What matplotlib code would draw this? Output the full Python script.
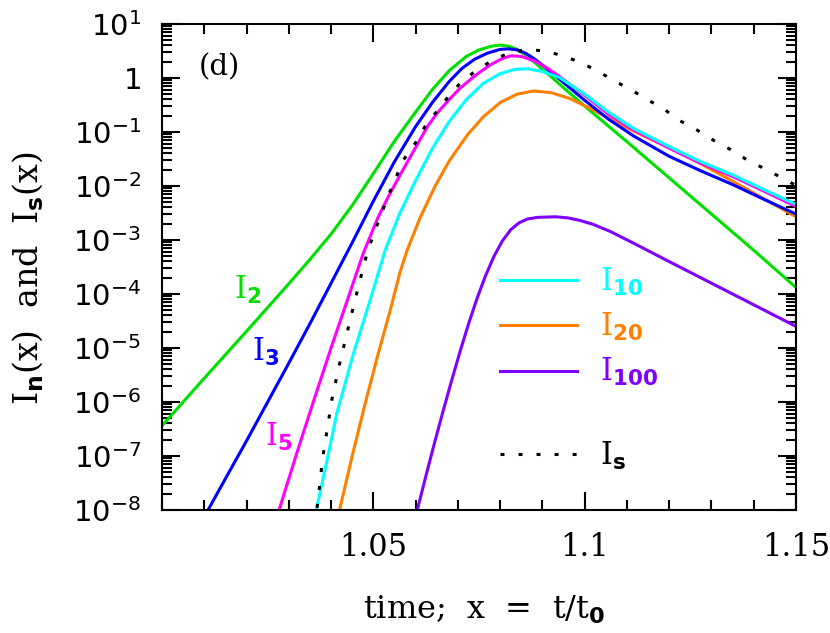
import matplotlib
matplotlib.use("Agg")
import matplotlib.pyplot as plt
from matplotlib.ticker import LogLocator, FixedLocator, FuncFormatter, NullFormatter
from matplotlib.lines import Line2D
import numpy as np

# ---------------- data (x, log10 y) ----------------
x_I2 = [1.000, 1.010, 1.020, 1.030, 1.035, 1.040, 1.045, 1.050, 1.055, 1.060, 1.064, 1.068,
        1.072, 1.075, 1.078, 1.080, 1.082, 1.084, 1.086, 1.088, 1.090, 1.092, 1.095, 1.100,
        1.110, 1.120, 1.130, 1.140, 1.150]
lg_I2 = [-6.44, -5.56, -4.69, -3.81, -3.36, -2.89, -2.36, -1.77, -1.17, -0.63, -0.21, 0.14,
         0.40, 0.52, 0.59, 0.61, 0.59, 0.53, 0.43, 0.30, 0.16, 0.03, -0.18, -0.52,
         -1.18, -1.85, -2.52, -3.19, -3.88]

x_I3 = [1.0109, 1.015, 1.020, 1.025, 1.030, 1.035, 1.040, 1.045, 1.050, 1.055, 1.060, 1.064,
        1.068, 1.071, 1.074, 1.077, 1.080, 1.082, 1.084, 1.086, 1.088, 1.090, 1.0934, 1.0998,
        1.1056, 1.1115, 1.120, 1.1275, 1.1352, 1.1425, 1.150]
lg_I3 = [-8.0, -7.42, -6.72, -6.0, -5.28, -4.55, -3.80, -3.05, -2.28, -1.55, -0.90, -0.45,
         -0.06, 0.18, 0.35, 0.46, 0.53, 0.54, 0.52, 0.46, 0.36, 0.24, 0.02, -0.40,
         -0.76, -1.07, -1.45, -1.72, -1.98, -2.25, -2.52]

x_I5 = [1.0277, 1.032, 1.036, 1.040, 1.044, 1.0476, 1.051, 1.0534, 1.0563, 1.0599, 1.0628,
        1.065, 1.0677, 1.0705, 1.074, 1.0776, 1.0805, 1.0825, 1.085, 1.088, 1.091, 1.094,
        1.100, 1.1056, 1.1115, 1.120, 1.1275, 1.1352, 1.1425, 1.150]
lg_I5 = [-8.0, -6.92, -5.95, -5.0, -4.08, -3.25, -2.60, -2.22, -1.80, -1.30, -0.90,
         -0.66, -0.42, -0.19, 0.04, 0.24, 0.36, 0.41, 0.40, 0.32, 0.19, 0.03,
         -0.32, -0.67, -0.96, -1.30, -1.58, -1.83, -2.10, -2.38]

x_I10 = [1.0365, 1.039, 1.0414, 1.0453, 1.0493, 1.0528, 1.0563, 1.060, 1.064, 1.068, 1.072,
         1.076, 1.080, 1.0835, 1.0865, 1.090, 1.094, 1.100, 1.1056, 1.1115, 1.120, 1.1275,
         1.1352, 1.1425, 1.150]
lg_I10 = [-8.0, -7.1, -6.2, -5.1, -4.1, -3.19, -2.50, -1.90, -1.30, -0.80, -0.40,
          -0.10, 0.08, 0.16, 0.17, 0.12, 0.01, -0.30, -0.63, -0.93, -1.27, -1.55,
          -1.80, -2.07, -2.34]

x_I20 = [1.042, 1.045, 1.048, 1.051, 1.054, 1.0563, 1.058, 1.061, 1.0645, 1.068, 1.0723,
         1.076, 1.0801, 1.084, 1.0879, 1.092, 1.0965, 1.1007, 1.1056, 1.1115, 1.1197,
         1.1275, 1.1352, 1.1425, 1.150]
lg_I20 = [-8.0, -7.0, -6.05, -5.15, -4.3, -3.6, -3.19, -2.6, -2.02, -1.53, -1.05,
          -0.72, -0.45, -0.30, -0.24, -0.27, -0.38, -0.54, -0.74, -0.98, -1.28,
          -1.59, -1.92, -2.24, -2.57]

x_I100 = [1.0604, 1.0625, 1.0645, 1.0665, 1.0685, 1.0705, 1.0725, 1.0745, 1.0765, 1.0785,
          1.0805, 1.0825, 1.0845, 1.0865, 1.089, 1.0931, 1.096, 1.099, 1.102, 1.106, 1.1116,
          1.120, 1.130, 1.140, 1.150]
lg_I100 = [-8.0, -7.35, -6.75, -6.17, -5.61, -5.07, -4.56, -4.09, -3.67, -3.31,
           -3.02, -2.81, -2.68, -2.61, -2.58, -2.57, -2.59, -2.64, -2.71, -2.84, -3.06,
           -3.40, -3.80, -4.20, -4.60]

x_Is = [1.0367, 1.0380, 1.0392, 1.0402, 1.0420, 1.0443, 1.0465, 1.0487, 1.0510, 1.0536,
        1.0571, 1.0599, 1.0622, 1.0650, 1.0677, 1.0705, 1.0740, 1.0776, 1.0819, 1.0863,
        1.0906, 1.0949, 1.0993, 1.1032, 1.1072, 1.1112, 1.1151, 1.1190, 1.1225, 1.1265,
        1.1304, 1.1344, 1.1383, 1.1423, 1.1462, 1.1500]
lg_Is = [-7.96, -7.05, -6.45, -5.95, -5.3, -4.55, -3.85, -3.19, -2.70, -2.17,
         -1.52, -1.21, -0.90, -0.62, -0.35, -0.10, 0.12, 0.30, 0.46, 0.53,
         0.50, 0.41, 0.28, 0.12, -0.06, -0.23, -0.41, -0.59, -0.79, -0.96,
         -1.15, -1.32, -1.51, -1.67, -1.83, -1.99]

inline_labels = [r"$\mathrm{I}_{\mathbf{2}}$", r"$\mathrm{I}_{\mathbf{3}}$", r"$\mathrm{I}_{\mathbf{5}}$"]
legend_labels = [r"$\mathrm{I}_{\mathbf{10}}$", r"$\mathrm{I}_{\mathbf{20}}$",
                 r"$\mathrm{I}_{\mathbf{100}}$", r"$\mathrm{I}_{\mathbf{s}}$"]
xtick_vals = [1.05, 1.1, 1.15]
xtick_text = ["1.05", "1.1", "1.15"]

# ---------------- style ----------------
plt.rcParams['mathtext.fontset'] = 'custom'
plt.rcParams['mathtext.rm'] = 'DejaVu Serif'
plt.rcParams['mathtext.it'] = 'DejaVu Serif:italic'
plt.rcParams['mathtext.bf'] = 'DejaVu Sans:bold'
plt.rcParams['mathtext.sf'] = 'DejaVu Sans'

c_green = '#00e000'
c_blue = '#0000ff'
c_mag = '#ff00ff'
c_cyan = '#00ffff'
c_orange = '#ff8000'
c_purple = '#8000ff'
lw = 2.2
dots = (0, (1.3, 4.6))

fig = plt.figure(figsize=(8.30, 6.33), dpi=100)
ax = fig.add_axes([162/830, 1 - 510/633, (796-162)/830, (510-24)/633])

def p(xs, lg):
    return np.array(xs), 10.0 ** np.array(lg)

ax.plot(*p(x_I2, lg_I2), color=c_green, lw=lw)
ax.plot(*p(x_I20, lg_I20), color=c_orange, lw=lw)
ax.plot(*p(x_I3, lg_I3), color=c_blue, lw=lw)
ax.plot(*p(x_I100, lg_I100), color=c_purple, lw=lw)
ax.plot(*p(x_I5, lg_I5), color=c_mag, lw=lw)
ax.plot(*p(x_I10, lg_I10), color=c_cyan, lw=lw)
ax.plot(*p(x_Is, lg_Is), color='black', lw=lw, linestyle=dots)

ax.set_yscale('log')
ax.set_xlim(1.0, 1.15)
ax.set_ylim(1e-8, 10)

# ticks
ax.set_xticks(xtick_vals, labels=xtick_text, fontfamily='DejaVu Serif', fontsize=22)
ax.xaxis.set_minor_locator(FixedLocator(np.round(np.arange(1.0, 1.1501, 0.01), 3)))
ax.yaxis.set_major_locator(LogLocator(base=10, numticks=20))
ax.yaxis.set_minor_locator(LogLocator(base=10, subs=np.arange(2, 10), numticks=20))
ax.yaxis.set_minor_formatter(NullFormatter())

def yfmt(v, pos):
    e = int(round(np.log10(v)))
    if e == 0:
        return r"$\mathregular{1}$"
    return r"$\mathregular{10^{%d}}$" % e
ax.yaxis.set_major_formatter(FuncFormatter(yfmt))

ax.tick_params(which='both', direction='in', top=True, right=True, width=1.5, color='black')
ax.tick_params(which='major', length=13)
ax.tick_params(which='minor', length=7)
ax.tick_params(axis='x', which='major', pad=16)
ax.tick_params(axis='y', which='major', pad=15, labelsize=21, labelfontfamily='DejaVu Sans')
for s in ax.spines.values():
    s.set_linewidth(1.5)

ax.set_xlabel(r"time;  x  =  t/t$_\mathbf{0}$", fontfamily='DejaVu Serif', fontsize=23)
ax.xaxis.set_label_coords(0.509, -0.172)
ax.set_ylabel(r"I$_\mathbf{n}$(x)  and  I$_\mathbf{s}$(x)", fontfamily='DejaVu Serif', fontsize=24)
ax.yaxis.set_label_coords(-0.185, 0.477)

ax.text(0.09, 0.911, "(d)", transform=ax.transAxes, fontfamily='DejaVu Serif', fontsize=21,
        ha='center', va='center')

# inline labels
ax.text(1.0203, 10 ** -3.93, inline_labels[0], color=c_green, fontsize=22, ha='center', va='center')
ax.text(1.0246, 10 ** -5.07, inline_labels[1], color=c_blue, fontsize=22, ha='center', va='center')
ax.text(1.0277, 10 ** -6.65, inline_labels[2], color=c_mag, fontsize=22, ha='center', va='center')

# legends
h1 = [Line2D([], [], color=c_cyan, lw=lw),
      Line2D([], [], color=c_orange, lw=lw),
      Line2D([], [], color=c_purple, lw=lw)]
leg1 = ax.legend(h1, legend_labels[:3], loc='center left', bbox_to_anchor=(0.533, 0.3765),
                 frameon=False, fontsize=22, handlelength=2.52, handletextpad=0.75,
                 labelspacing=0.43, borderaxespad=0, borderpad=0)
for t, c in zip(leg1.get_texts(), [c_cyan, c_orange, c_purple]):
    t.set_color(c)
ax.add_artist(leg1)
h2 = [Line2D([], [], color='black', lw=lw, linestyle=dots)]
leg2 = ax.legend(h2, legend_labels[3:], loc='center left', bbox_to_anchor=(0.533, 0.111),
                 frameon=False, fontsize=22, handlelength=2.52, handletextpad=0.75,
                 borderaxespad=0, borderpad=0)

fig.savefig("out.png", dpi=100)
